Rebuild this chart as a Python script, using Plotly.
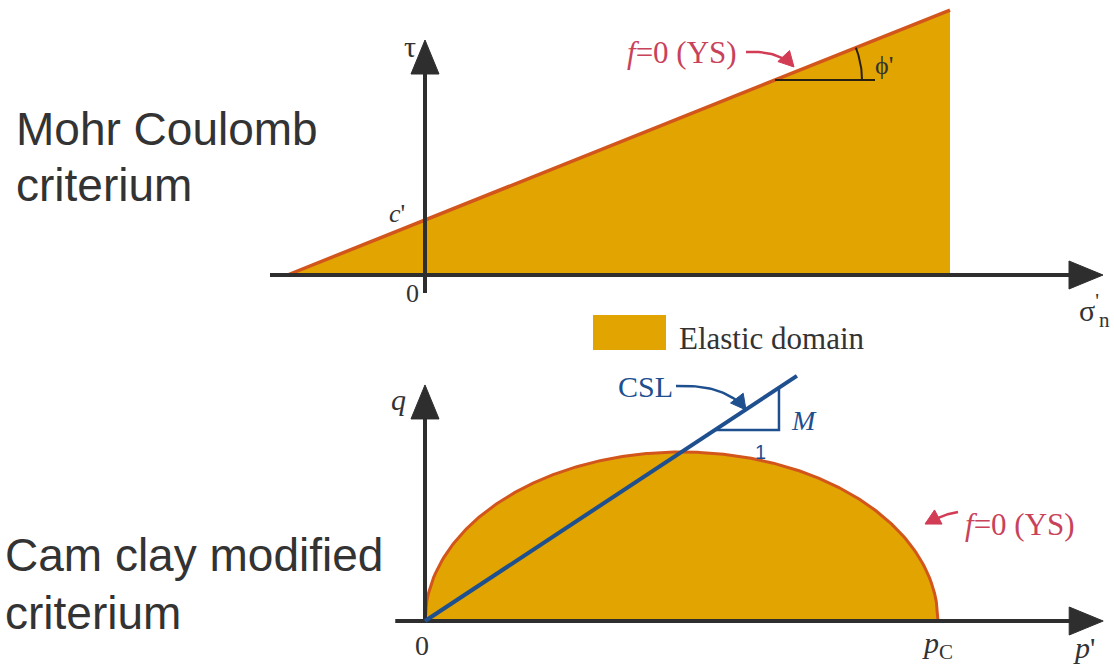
import numpy as np
import plotly.graph_objects as go

W, H = 1114, 666

# ---------------- data: Mohr-Coulomb panel (stress units) ----------------
c_prime = 0.55            # cohesion intercept c'
phi_deg = 21.8            # friction angle phi'
sigma_domain_end = 5.25   # right edge of elastic domain shown
sigma_axis_start = -1.55
sigma_axis_end = 6.78
tau_axis_start = -0.18
tau_axis_end = 2.35
tau_phi_line = 1.95       # level of the phi' construction line
sigma_phi_line_end = 4.5
phi_arc_radius = 0.87

# ---------------- data: Modified Cam clay panel ----------------
p_c = 1.0                 # preconsolidation pressure
M = 1.2                   # CSL slope
p_axis_start = -0.058
p_axis_end = 1.322
q_axis_end = 0.838
p_csl_end = 0.725
p_tri_a = 0.565
p_tri_b = 0.69

# ---------------- panel scales (px per unit) ----------------
TOP = dict(ox=425, oy=275, sx=100.0, sy=100.0)
BOT = dict(ox=425, oy=621, sx=513.0, sy=281.7)

FILL = "#E2A400"
EDGE = "#D2561C"
AXC = "#2e2e2e"
BLUE = "#1E4F8E"
RED = "#C8425A"
TXT = "#333333"


def rng(P):
    xr = [(0 - P["ox"]) / P["sx"], (W - P["ox"]) / P["sx"]]
    yr = [(P["oy"] - H) / P["sy"], P["oy"] / P["sy"]]
    return xr, yr


def to_px(P, x, y):
    return P["ox"] + P["sx"] * x, P["oy"] - P["sy"] * y


def to_data(P, px, py):
    return (np.asarray(px) - P["ox"]) / P["sx"], (P["oy"] - np.asarray(py)) / P["sy"]


fig = go.Figure()


def add(x, y, ax, **kw):
    xa, ya = ("x", "y") if ax == "top" else ("x2", "y2")
    fig.add_trace(go.Scatter(x=x, y=y, xaxis=xa, yaxis=ya, showlegend=False,
                             hoverinfo="skip", **kw))


def head(P, ax, tip_x, tip_y, dxp, dyp, L, w, color):
    """filled arrow head; tip in data, direction in px space"""
    tx, ty = to_px(P, tip_x, tip_y)
    n = np.hypot(dxp, dyp)
    dxp, dyp = dxp / n, dyp / n
    bx, by = tx - L * dxp, ty - L * dyp
    nx, ny = -dyp, dxp
    pxs = [tx, bx + w * nx, bx - w * nx, tx]
    pys = [ty, by + w * ny, by - w * ny, ty]
    xd, yd = to_data(P, pxs, pys)
    add(list(xd), list(yd), ax, mode="lines", fill="toself", fillcolor=color,
        line=dict(color=color, width=1))


def curved_arrow(P, ax, pts_px, color, width=2.5, L=15, w=8):
    """quadratic path through px control points, ends with head"""
    (x0, y0), (x1, y1), (x2, y2) = pts_px
    t = np.linspace(0, 1, 30)
    bx = (1 - t) ** 2 * x0 + 2 * (1 - t) * t * x1 + t ** 2 * x2
    by = (1 - t) ** 2 * y0 + 2 * (1 - t) * t * y1 + t ** 2 * y2
    dx, dy = x2 - x1, y2 - y1
    n = np.hypot(dx, dy)
    cut = L * 0.6
    ex, ey = x2 - cut * dx / n, y2 - cut * dy / n
    bx[-1], by[-1] = ex, ey
    xd, yd = to_data(P, bx, by)
    add(list(xd), list(yd), ax, mode="lines", line=dict(color=color, width=width))
    tx, ty = to_data(P, x2, y2)
    head(P, ax, float(tx), float(ty), dx, dy, L, w, color)


# ================= TOP: Mohr-Coulomb =================
tanp = np.tan(np.radians(phi_deg))
sigma0 = -c_prime / tanp
tau_end = c_prime + tanp * sigma_domain_end
add([sigma0, sigma_domain_end, sigma_domain_end, sigma0],
    [0, tau_end, 0, 0], "top", mode="lines", fill="toself",
    fillcolor=FILL, line=dict(width=0, color=FILL))
add([sigma0, sigma_domain_end], [0, tau_end], "top", mode="lines",
    line=dict(color=EDGE, width=3.5))

# phi' construction
s_a = (tau_phi_line - c_prime) / tanp
add([s_a, sigma_phi_line_end], [tau_phi_line, tau_phi_line], "top", mode="lines",
    line=dict(color="#2a2010", width=2))
th = np.linspace(0, np.radians(phi_deg), 20)
add(list(s_a + phi_arc_radius * np.cos(th)), list(tau_phi_line + phi_arc_radius * np.sin(th)),
    "top", mode="lines", line=dict(color="#2a2010", width=2))

# axes
AH_L, AH_W = 34, 14
add([sigma_axis_start, sigma_axis_end - AH_L / TOP["sx"] * 0.8], [0, 0], "top", mode="lines",
    line=dict(color=AXC, width=4))
add([0, 0], [tau_axis_start, tau_axis_end - AH_L / TOP["sy"] * 0.8], "top", mode="lines",
    line=dict(color=AXC, width=4))
head(TOP, "top", sigma_axis_end, 0, 1, 0, AH_L, AH_W, AXC)
head(TOP, "top", 0, tau_axis_end, 0, -1, AH_L, AH_W, AXC)

# f=0 arrow (top)
curved_arrow(TOP, "top", [(746, 52), (778, 50), (794, 67)], "#D23C55", width=2.5)

# ================= BOTTOM: Modified Cam clay =================
p = np.linspace(0, p_c, 300)
q = M * np.sqrt(np.clip(p * (p_c - p), 0, None))
add(list(p) + [0], list(q) + [0], "bot", mode="lines", fill="toself",
    fillcolor=FILL, line=dict(width=0, color=FILL))
add(list(p), list(q), "bot", mode="lines", line=dict(color=EDGE, width=3))

add([p_axis_start, p_axis_end - AH_L / BOT["sx"] * 0.8], [0, 0], "bot", mode="lines",
    line=dict(color=AXC, width=4))
add([0, 0], [0, q_axis_end - AH_L / BOT["sy"] * 0.8], "bot", mode="lines",
    line=dict(color=AXC, width=4))
head(BOT, "bot", p_axis_end, 0, 1, 0, AH_L, AH_W, AXC)
head(BOT, "bot", 0, q_axis_end, 0, -1, AH_L, AH_W, AXC)

# CSL
add([0, p_csl_end], [0, M * p_csl_end], "bot", mode="lines", line=dict(color=BLUE, width=4))
add([p_tri_a, p_tri_b, p_tri_b], [M * p_tri_a, M * p_tri_a, M * p_tri_b], "bot",
    mode="lines", line=dict(color=BLUE, width=2.5))
curved_arrow(BOT, "bot", [(676, 386), (726, 384), (746, 410)], BLUE, width=2.5)

# f=0 arrow (bottom)
curved_arrow(BOT, "bot", [(958, 512), (944, 514), (925, 524)], "#D23C55", width=2.5)

# ================= layout =================
xr1, yr1 = rng(TOP)
xr2, yr2 = rng(BOT)
ax_common = dict(visible=False, showgrid=False, zeroline=False, fixedrange=True)
fig.update_layout(
    width=W, height=H, margin=dict(l=0, r=0, t=0, b=0),
    paper_bgcolor="white", plot_bgcolor="white",
    xaxis=dict(range=xr1, domain=[0, 1], **ax_common),
    yaxis=dict(range=yr1, domain=[0, 1], **ax_common),
    xaxis2=dict(range=xr2, domain=[0, 1], overlaying="x", **ax_common),
    yaxis2=dict(range=yr2, domain=[0, 1], overlaying="y", **ax_common),
)


def note(text, px, py, size, color=TXT, family="Liberation Serif", xanchor="center",
         yanchor="middle"):
    fig.add_annotation(text=text, x=px / W, y=1 - py / H, xref="paper", yref="paper",
                       showarrow=False, xanchor=xanchor, yanchor=yanchor,
                       font=dict(size=size, color=color, family=family))


SANS = "Liberation Sans"
note("Mohr Coulomb", 14, 129, 46, family=SANS, xanchor="left")
note("criterium", 14, 185, 46, family=SANS, xanchor="left")
note("Cam clay modified", 3, 555, 46, family=SANS, xanchor="left")
note("criterium", 3, 613, 46, family=SANS, xanchor="left")

note("τ", 410, 46, 30)
note("<i>c</i>'", 397, 214, 26)
note("0", 412, 294, 26)
note("σ<sup>'</sup><sub>n</sub>", 1094, 310, 30)
note("<i>f</i>=0 (YS)", 682, 52, 31, color=RED)
note("ϕ'", 884, 66, 26)

# legend
fig.add_shape(type="rect", xref="paper", yref="paper", x0=593 / W, x1=666 / W,
              y0=1 - 350 / H, y1=1 - 315 / H, fillcolor=FILL, line=dict(width=0))
note("Elastic domain", 677, 338, 31, xanchor="left")

note("<i>q</i>", 398, 399, 30)
note("CSL", 645, 387, 30, color=BLUE)
note("<i>M</i>", 804, 420, 28, color=BLUE)
note("1", 760, 452, 20, color=BLUE, family=SANS)
note("<i>f</i>=0 (YS)", 1020, 524, 31, color=RED)
note("0", 422, 645, 28)
note("<i>p</i><sub>C</sub>", 937, 645, 30)
note("<i>p</i>'", 1084, 647, 30)

fig.write_html("out.html", config={"displayModeBar": False},
               post_script="document.body.style.margin='0';document.body.style.overflow='hidden';")
